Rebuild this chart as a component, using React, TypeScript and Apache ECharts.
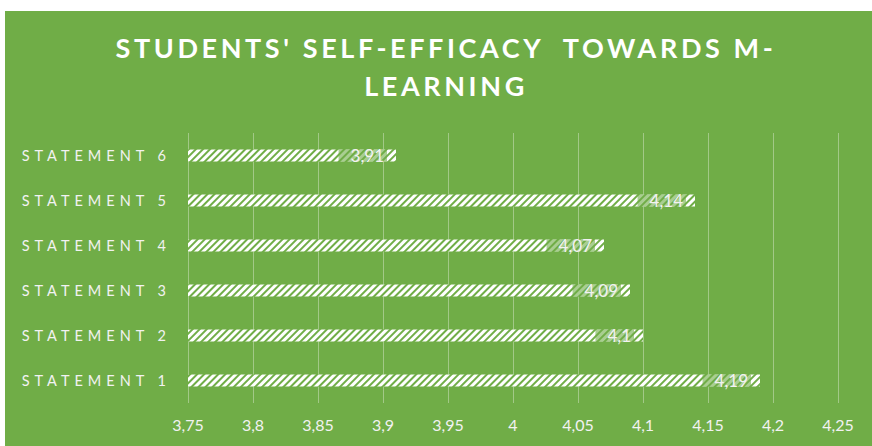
import React, { useEffect, useRef } from "react";
import * as echarts from "echarts";

const categories = ["STATEMENT 1", "STATEMENT 2", "STATEMENT 3", "STATEMENT 4", "STATEMENT 5", "STATEMENT 6"];
const values = [4.19, 4.1, 4.09, 4.07, 4.14, 3.91];
const titleLines = ["STUDENTS' SELF-EFFICACY  TOWARDS M-", "LEARNING"];

const GREEN = "#70AD47";
const fmt = (v: number) => String(Number(v.toFixed(2))).replace(".", ",");

export default function App() {
  const ref = useRef<HTMLDivElement>(null);
  useEffect(() => {
    if (!ref.current) return;
    const chart = echarts.init(ref.current, null, { renderer: "svg" });
    chart.setOption({
      animation: false,
      backgroundColor: "#ffffff",
      graphic: [
        { type: "rect", z: -100, shape: { x: 5, y: 11, width: 867, height: 435 }, style: { fill: GREEN } },
        {
          type: "text",
          z: 10,
          style: {
            x: 446,
            y: 28,
            text: titleLines.join("\n"),
            textAlign: "center",
            textVerticalAlign: "top",
            fill: "#ffffff",
            fontSize: 27,
            fontWeight: "bold",
            fontFamily: "Lato",
            lineHeight: 38,
          },
        },
      ],
      grid: { left: 188, right: 34, top: 133, bottom: 43, containLabel: false },
      xAxis: {
        type: "value",
        min: 3.75,
        max: 4.25,
        interval: 0.05,
        axisLine: { show: false },
        axisTick: { show: false },
        splitLine: { show: true, lineStyle: { color: "rgba(255,255,255,0.35)", width: 1 } },
        axisLabel: { color: "#F2F2F2", fontSize: 16, fontFamily: "Lato", margin: 13, formatter: (v: number) => fmt(v) },
      },
      yAxis: {
        type: "category",
        data: categories,
        axisLine: { show: false },
        axisTick: { show: false },
        axisLabel: { color: "#F2F2F2", fontSize: 14.5, fontFamily: "Lato", margin: 17 },
      },
      series: [
        {
          type: "bar",
          data: values,
          barWidth: 12,
          itemStyle: {
            color: GREEN,
            decal: {
              symbol: "rect",
              symbolSize: 1,
              color: "#ffffff",
              dashArrayX: [1, 0],
              dashArrayY: [2.6, 1.8],
              rotation: -Math.PI / 4,
            },
          },
          label: {
            show: true,
            position: "insideRight",
            distance: 9,
            color: "#F2F2F2",
            fontSize: 17,
            fontFamily: "Lato",
            backgroundColor: "rgba(112,173,71,0.6)",
            padding: [0, 3, 0, 12],
            lineHeight: 12,
            formatter: (p: any) => fmt(p.value),
          },
        },
      ],
    });
    const svg = ref.current.querySelector("svg");
    if (svg) {
      svg.querySelectorAll("text").forEach((t) => {
        const s = t.textContent || "";
        if (s.startsWith("STATEMENT")) t.setAttribute("letter-spacing", "5");
        else if (s.includes("STUDENTS") || s === "LEARNING") t.setAttribute("letter-spacing", "3.6");
      });
    }
    return () => chart.dispose();
  }, []);
  return (
    <div
      ref={ref}
      style={{ position: "absolute", left: 0, top: 0, width: 872, height: 446 }}
    />
  );
}
